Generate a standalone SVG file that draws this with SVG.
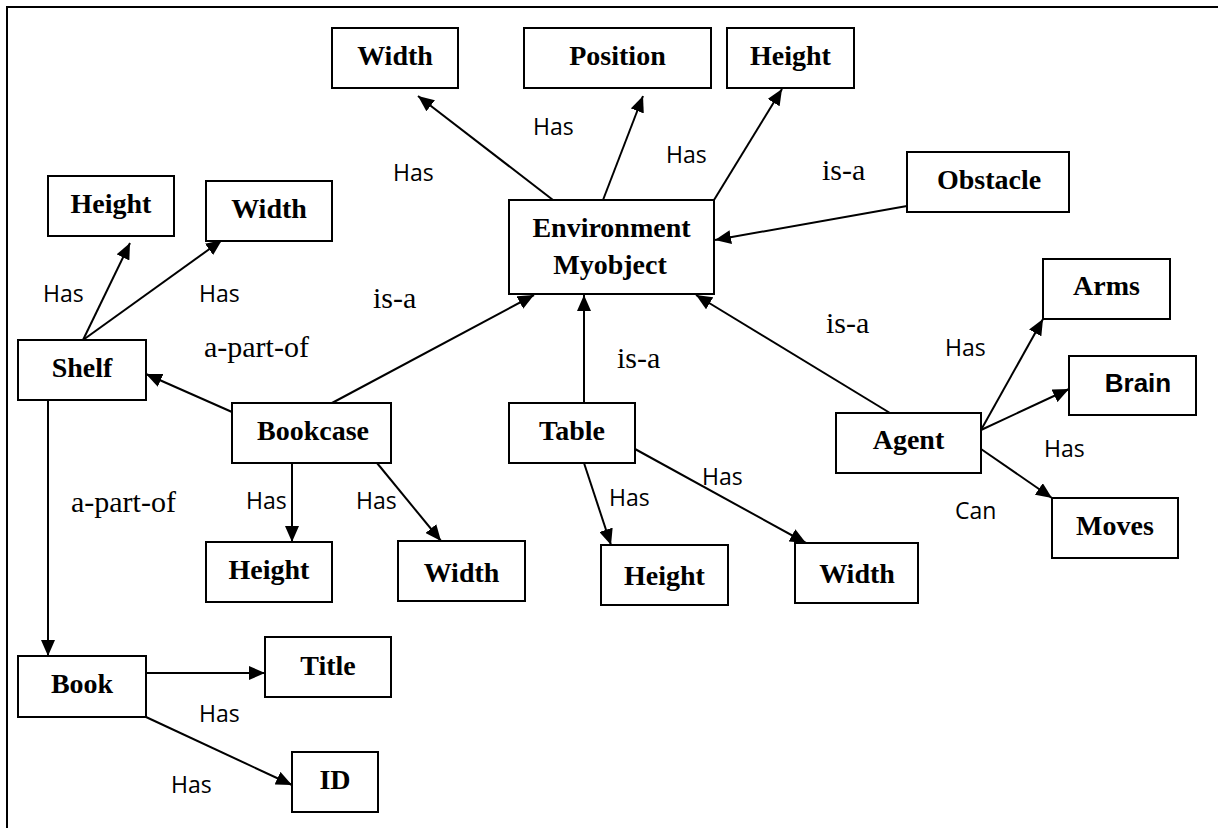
<svg xmlns="http://www.w3.org/2000/svg" width="1218" height="828" viewBox="0 0 1218 828">
  <defs>
    <marker id="arrow" viewBox="0 0 16 14" refX="16" refY="7" markerWidth="16" markerHeight="14" markerUnits="userSpaceOnUse" orient="auto">
      <path d="M0,0 L16,7 L0,14 z" fill="#000"/>
    </marker>
    <style>
      .box { fill: #fff; stroke: #000; stroke-width: 2; }
      .name { font-family: "Liberation Serif", "Times New Roman", serif; font-weight: bold; font-size: 28px; text-anchor: middle; fill: #000; }
      .sans { font-family: "Liberation Sans", Arial, sans-serif; }
      .rel { font-family: "Liberation Serif", "Times New Roman", serif; font-size: 30px; fill: #000; }
      .has { font-family: "Open Sans", "Liberation Sans", sans-serif; font-size: 23px; fill: #000; }
      .edge { stroke: #000; stroke-width: 2; fill: none; marker-end: url(#arrow); }
      .frame { stroke: #000; stroke-width: 2; fill: none; }
    </style>
  </defs>
  <rect width="1218" height="828" fill="#fff"/>

  <!-- page frame (top and left rules) -->
  <path class="frame" d="M7,828 L7,7 L1218,7"/>

  <!-- connectors -->
  <g id="connectors">
    <line class="edge" x1="553" y1="200" x2="418" y2="96"/>
    <line class="edge" x1="603" y1="200" x2="643" y2="96"/>
    <line class="edge" x1="714" y1="200" x2="782" y2="89"/>
    <line class="edge" x1="907" y1="206" x2="715" y2="240"/>
    <line class="edge" x1="332" y1="403" x2="534" y2="295"/>
    <line class="edge" x1="584" y1="403" x2="584" y2="295"/>
    <line class="edge" x1="890" y1="413" x2="696" y2="295"/>
    <line class="edge" x1="83" y1="340" x2="130" y2="243"/>
    <line class="edge" x1="83" y1="340" x2="222" y2="240"/>
    <line class="edge" x1="232" y1="412" x2="146" y2="374"/>
    <line class="edge" x1="48" y1="400" x2="48" y2="656"/>
    <line class="edge" x1="292" y1="463" x2="292" y2="542"/>
    <line class="edge" x1="377" y1="463" x2="441" y2="541"/>
    <line class="edge" x1="584" y1="463" x2="611" y2="545"/>
    <line class="edge" x1="635" y1="449" x2="806" y2="543"/>
    <line class="edge" x1="981" y1="430" x2="1043" y2="319"/>
    <line class="edge" x1="981" y1="430" x2="1069" y2="389"/>
    <line class="edge" x1="981" y1="449" x2="1052" y2="498"/>
    <line class="edge" x1="146" y1="673" x2="265" y2="673"/>
    <line class="edge" x1="146" y1="717" x2="292" y2="785"/>
  </g>

  <!-- connector labels -->
  <g id="labels">
    <text class="has" x="393" y="181">Has</text>
    <text class="has" x="533" y="135">Has</text>
    <text class="has" x="666" y="163">Has</text>
    <text class="rel" x="822" y="180">is-a</text>
    <text class="has" x="43" y="302">Has</text>
    <text class="has" x="199" y="302">Has</text>
    <text class="rel" x="373" y="308">is-a</text>
    <text class="rel" x="204" y="357">a-part-of</text>
    <text class="rel" x="71" y="512">a-part-of</text>
    <text class="has" x="246" y="509">Has</text>
    <text class="has" x="356" y="509">Has</text>
    <text class="rel" x="617" y="368">is-a</text>
    <text class="has" x="609" y="506">Has</text>
    <text class="has" x="702" y="485">Has</text>
    <text class="rel" x="826" y="333">is-a</text>
    <text class="has" x="945" y="356">Has</text>
    <text class="has" x="1044" y="457">Has</text>
    <text class="has" x="955" y="519">Can</text>
    <text class="has" x="199" y="722">Has</text>
    <text class="has" x="171" y="793">Has</text>
  </g>

  <!-- nodes -->
  <g id="env-width"><rect class="box" x="332" y="28" width="126" height="60"/><text class="name" x="395" y="65">Width</text></g>
  <g id="env-position"><rect class="box" x="524" y="28" width="187" height="60"/><text class="name" x="617.5" y="65">Position</text></g>
  <g id="env-height"><rect class="box" x="727" y="28" width="127" height="60"/><text class="name" x="790.5" y="65">Height</text></g>
  <g id="environment"><rect class="box" x="509" y="200" width="205" height="94"/><text class="name" x="611.5" y="237">Environment</text><text class="name" x="610" y="274">Myobject</text></g>
  <g id="obstacle"><rect class="box" x="907" y="152" width="162" height="60"/><text class="name" x="989" y="189">Obstacle</text></g>
  <g id="shelf-height"><rect class="box" x="48" y="176" width="126" height="60"/><text class="name" x="111" y="213">Height</text></g>
  <g id="shelf-width"><rect class="box" x="206" y="181" width="126" height="60"/><text class="name" x="269" y="218">Width</text></g>
  <g id="shelf"><rect class="box" x="18" y="340" width="128" height="60"/><text class="name" x="82" y="377">Shelf</text></g>
  <g id="bookcase"><rect class="box" x="232" y="403" width="159" height="60"/><text class="name" x="313" y="440">Bookcase</text></g>
  <g id="bookcase-height"><rect class="box" x="206" y="542" width="126" height="60"/><text class="name" x="269" y="579">Height</text></g>
  <g id="bookcase-width"><rect class="box" x="398" y="541" width="127" height="60"/><text class="name" x="461.5" y="582">Width</text></g>
  <g id="table"><rect class="box" x="509" y="403" width="126" height="60"/><text class="name" x="572" y="440">Table</text></g>
  <g id="table-height"><rect class="box" x="601" y="545" width="127" height="60"/><text class="name" x="664.5" y="585">Height</text></g>
  <g id="table-width"><rect class="box" x="795" y="543" width="123" height="60"/><text class="name" x="857" y="583">Width</text></g>
  <g id="agent"><rect class="box" x="836" y="413" width="145" height="60"/><text class="name" x="908.5" y="449">Agent</text></g>
  <g id="arms"><rect class="box" x="1043" y="259" width="127" height="60"/><text class="name" x="1106.5" y="295">Arms</text></g>
  <g id="brain"><rect class="box" x="1069" y="356" width="127" height="59"/><text class="name sans" x="1138" y="392" style="font-size:26px">Brain</text></g>
  <g id="moves"><rect class="box" x="1052" y="498" width="126" height="60"/><text class="name" x="1115" y="535">Moves</text></g>
  <g id="book"><rect class="box" x="18" y="656" width="128" height="61"/><text class="name" x="82" y="693">Book</text></g>
  <g id="title"><rect class="box" x="265" y="637" width="126" height="60"/><text class="name" x="328" y="675">Title</text></g>
  <g id="id"><rect class="box" x="292" y="752" width="86" height="60"/><text class="name" x="335" y="789">ID</text></g>
</svg>
